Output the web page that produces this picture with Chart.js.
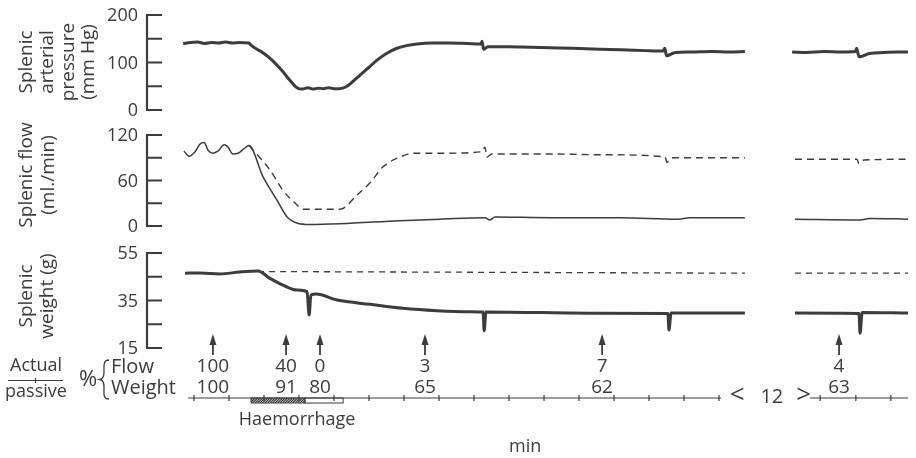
<!DOCTYPE html>
<html>
<head>
<meta charset="utf-8">
<script src="https://cdn.jsdelivr.net/npm/chart.js@4/dist/chart.umd.min.js"></script>
<style>
  html, body { margin: 0; padding: 0; background: #fdfdfd; }
  #wrap { width: 916px; height: 458px; position: relative; }
</style>
</head>
<body>
<div id="wrap"><canvas id="spleen"></canvas></div>
<script>
// [time (min, record time with the 12 min gap squeezed out), value]
const pressure = [
  [-0.31,140],[-0.1,142],[0.1,143],[0.3,140],[0.5,142],[0.7,141],[0.9,143],[1.1,141],[1.3,142],[1.57,141],
  [1.62,137],[1.8,128],[2.0,119],[2.23,105],[2.5,84],[2.77,60],[2.94,47],[3.1,44],[3.25,47],[3.4,44],
  [3.55,46],[3.7,45],[3.85,47],[4.0,45],[4.15,45],[4.35,49],[4.66,68],[5.0,90],[5.23,105],[5.5,119],
  [5.8,130],[6.1,136],[6.37,139],[6.8,141],[7.3,141],[7.8,140],[8.2,139],[8.23,145],[8.27,128],[8.4,133],
  [9.0,133],[9.6,132],[10.2,131],[10.8,130],[11.6,128],[12.2,127],[12.9,125],[13.4,124],[13.45,130],[13.5,114],
  [13.75,121],[14.2,122],[14.8,123],[15.3,122],[15.74,123],[16.4,null],
  [17.09,122],[17.5,121],[18.0,123],[18.5,122],[18.9,123],[18.93,130],[19.0,112],[19.3,119],[19.7,121],[20.1,122],[20.4,122]
];
const flowActual = [
  [-0.29,99],[-0.14,92],[0.03,98],[0.17,108],[0.29,110],[0.4,100],[0.54,96],[0.69,99],[0.86,107],[0.97,104],
  [1.11,95],[1.26,96],[1.43,102],[1.57,106],[1.97,65],[2.37,34],[2.66,12],[2.94,4],[3.31,2],[4.17,3],
  [5.89,7],[7.03,9],[8.31,11],[8.46,8],[8.6,12],[10.17,11],[12.17,11],[13.83,9],[14.17,11],[15.74,11],[16.4,null],
  [17.17,9],[19.03,8],[19.31,10],[20.4,9]
];
const flowPassive = [
  [1.57,106],[2.17,74],[2.54,47],[2.94,28],[3.11,22],[4.17,22],[4.66,41],[5.03,57],[5.4,78],[5.89,91],
  [6.26,96],[7.03,96],[8.23,98],[8.31,104],[8.37,91],[8.51,95],[10.17,95],[11.6,94],[13.46,91],[13.51,84],
  [13.66,90],[15.74,90],[16.4,null],
  [17.17,88],[18.94,88],[19.0,82],[19.14,87],[20.4,88]
];
const weightActual = [
  [-0.26,46.5],[0.17,46.6],[0.74,46.2],[1.31,47],[1.83,47.4],[2.17,44.3],[2.54,41.5],[2.94,39.4],[3.23,38.7],[3.29,28.9],
  [3.34,37.3],[3.49,37.7],[4.09,35.2],[5.03,33.4],[5.97,31.7],[6.94,30.7],[7.89,30.3],[8.26,30.2],[8.29,22.2],[8.34,30.2],
  [11.6,29.6],[13.54,29.5],[13.57,22.6],[13.63,29.7],[15.74,29.7],[16.4,null],
  [17.17,29.7],[19.0,29.5],[19.03,21.2],[19.09,30],[20.4,29.7]
];
const weightPassive = [[1.83,47.2],[15.74,46.5],[16.4,null],[17.17,46.5],[20.4,46.5]];

const arrowTimes = [0.54, 2.63, 3.6, 6.6, 11.66, 18.43];
const flowPct = ["100", "40", "0", "3", "7", "4"];
const weightPct = ["100", "91", "80", "65", "62", "63"];
const minuteTicks = [0,1,2,3,4,5,6,7,8,9,10,11,12,13,14,15, 17.89,18.91,19.91];
const timeSegments = [[-0.17, 15.06], [17.6, 20.4]];
const gapMinutes = "12";
const haemorrhage = [1.63, 3.17, 4.26];   // start of bleed, end of bleed, end of box

const INK = "#3c3c3c";
const FONT = "'Open Sans', sans-serif";
const PAD = { left: 147, right: 6, top: 10, bottom: 58 };
const H = 458;

// panel = value range, where it sits on the page, tick step, labelled ticks, title lines
const panels = [
  { id: "p", lo: 0, hi: 200, yHi: 15, yLo: 110, step: 50, labels: [0, 100, 200],
    title: ["Splenic", "arterial", "pressure", "(mm Hg)"], tx: [27, 48, 69, 89], ty: 62 },
  { id: "f", lo: 0, hi: 120, yHi: 135, yLo: 226, step: 30, labels: [0, 60, 120],
    title: ["Splenic flow", "(ml./min)"], tx: [27, 49], ty: 175 },
  { id: "w", lo: 15, hi: 55, yHi: 253, yLo: 348, step: 10, labels: [15, 35, 55],
    title: ["Splenic", "weight (g)"], tx: [27, 48], ty: 296 }
];

function fit(pn) {
  const top = PAD.top, bottom = H - PAD.bottom;
  const k = (pn.hi - pn.lo) / (pn.yLo - pn.yHi);
  return { type: "linear", display: false,
    min: pn.lo - (bottom - pn.yLo) * k, max: pn.hi + (pn.yHi - top) * k };
}

const pts = arr => arr.map(([x, y]) => ({ x, y }));
const line = (data, axis, width, dash) => ({
  data: pts(data), yAxisID: axis, borderColor: INK, borderWidth: width,
  borderDash: dash || [], pointRadius: 0, cubicInterpolationMode: "monotone",
  spanGaps: false, fill: false
});

const decor = {
  id: "decor",
  afterDraw(chart) {
    const c = chart.ctx, X = chart.scales.x;
    c.save();
    c.fillStyle = INK; c.strokeStyle = INK;

    // bracket axes with inward ticks
    panels.forEach(pn => {
      const s = chart.scales[pn.id], x0 = chart.chartArea.left;
      c.lineWidth = 2.2;
      c.beginPath();
      c.moveTo(x0, s.getPixelForValue(pn.hi) - 1);
      c.lineTo(x0, s.getPixelForValue(pn.lo) + 1);
      for (let v = pn.lo; v <= pn.hi; v += pn.step) {
        const y = s.getPixelForValue(v);
        c.moveTo(x0 - 1, y); c.lineTo(x0 + 15, y);
      }
      c.stroke();
      c.font = "18px " + FONT; c.textAlign = "right"; c.textBaseline = "middle";
      pn.labels.forEach(v => c.fillText(String(v), x0 - 9, s.getPixelForValue(v) + 1));
      c.save();
      c.font = "19px " + FONT; c.textAlign = "center";
      pn.title.forEach((t, i) => {
        c.save(); c.translate(pn.tx[i], pn.ty); c.rotate(-Math.PI / 2);
        c.fillText(t, 0, 0); c.restore();
      });
      c.restore();
    });

    // time axis
    const yA = 398;
    c.lineWidth = 1.2;
    c.beginPath();
    timeSegments.forEach(([a, b]) => { c.moveTo(X.getPixelForValue(a), yA); c.lineTo(X.getPixelForValue(b), yA); });
    minuteTicks.forEach(t => { const x = X.getPixelForValue(t); c.moveTo(x, yA - 3); c.lineTo(x, yA + 3); });
    c.stroke();
    c.font = "26px " + FONT; c.textAlign = "center"; c.textBaseline = "middle";
    c.fillText("<", X.getPixelForValue(15.52), yA - 2);
    c.fillText(">", X.getPixelForValue(17.42), yA - 2);
    c.font = "20px " + FONT;
    c.fillText(gapMinutes, X.getPixelForValue(16.51), yA - 1);

    // haemorrhage bar
    const h0 = X.getPixelForValue(haemorrhage[0]), h1 = X.getPixelForValue(haemorrhage[1]), h2 = X.getPixelForValue(haemorrhage[2]);
    c.lineWidth = 1;
    c.strokeRect(h0, yA, h1 - h0, 5);
    c.strokeRect(h1, yA, h2 - h1, 5);
    c.save();
    c.beginPath(); c.rect(h0, yA, h1 - h0, 5); c.clip();
    c.lineWidth = 1.2;
    c.beginPath();
    for (let x = h0 - 6; x < h1 + 6; x += 2.5) { c.moveTo(x, yA + 5); c.lineTo(x + 5, yA); }
    c.stroke();
    c.restore();
    c.font = "18px " + FONT;
    c.fillText("Haemorrhage", (h0 + h2) / 2, 420);
    c.fillText("min", X.getPixelForValue(9.46), 447);

    // arrows and % values
    arrowTimes.forEach((t, i) => {
      const x = X.getPixelForValue(t);
      c.lineWidth = 1.8;
      c.beginPath(); c.moveTo(x, 342); c.lineTo(x, 355); c.stroke();
      c.beginPath(); c.moveTo(x, 334); c.lineTo(x - 3.5, 345); c.lineTo(x + 3.5, 345); c.closePath(); c.fill();
      c.font = "19px " + FONT;
      c.fillText(flowPct[i], x, 367);
      c.fillText(weightPct[i], x, 388);
    });

    // row legend at left
    c.font = "18px " + FONT; c.textAlign = "center";
    c.fillText("Actual", 36, 366);
    c.fillText("passive", 36, 392);
    c.lineWidth = 1;
    c.beginPath(); c.moveTo(8, 380.5); c.lineTo(63, 380.5); c.moveTo(35.5, 378); c.lineTo(35.5, 383); c.stroke();
    c.font = "22px " + FONT;
    c.fillText("%", 88, 380);
    c.lineWidth = 1.3;
    c.beginPath();
    c.moveTo(109, 360);
    c.bezierCurveTo(103, 360, 104, 366, 104, 372);
    c.bezierCurveTo(104, 377, 103, 379, 100, 379.5);
    c.bezierCurveTo(103, 380, 104, 382, 104, 387);
    c.bezierCurveTo(104, 394, 103, 399, 109, 399);
    c.stroke();
    c.textAlign = "left"; c.font = "20px " + FONT;
    c.fillText("Flow", 111, 367);
    c.fillText("Weight", 111, 388);
    c.restore();
  }
};

Chart.defaults.font.family = FONT;
new Chart(document.getElementById("spleen"), {
  type: "line",
  data: {
    datasets: [
      line(pressure, "p", 3),
      line(flowActual, "f", 1.5),
      line(flowPassive, "f", 1.4, [7, 5]),
      line(weightActual, "w", 3),
      line(weightPassive, "w", 1.3, [6, 5])
    ]
  },
  options: {
    responsive: true, maintainAspectRatio: false, animation: false, devicePixelRatio: 1,
    events: [],
    layout: { padding: PAD },
    plugins: { legend: { display: false }, tooltip: { enabled: false } },
    scales: {
      x: { type: "linear", display: false, min: -1.343, max: 20.457 },
      p: fit(panels[0]),
      f: fit(panels[1]),
      w: fit(panels[2])
    }
  },
  plugins: [decor]
});
</script>
</body>
</html>
